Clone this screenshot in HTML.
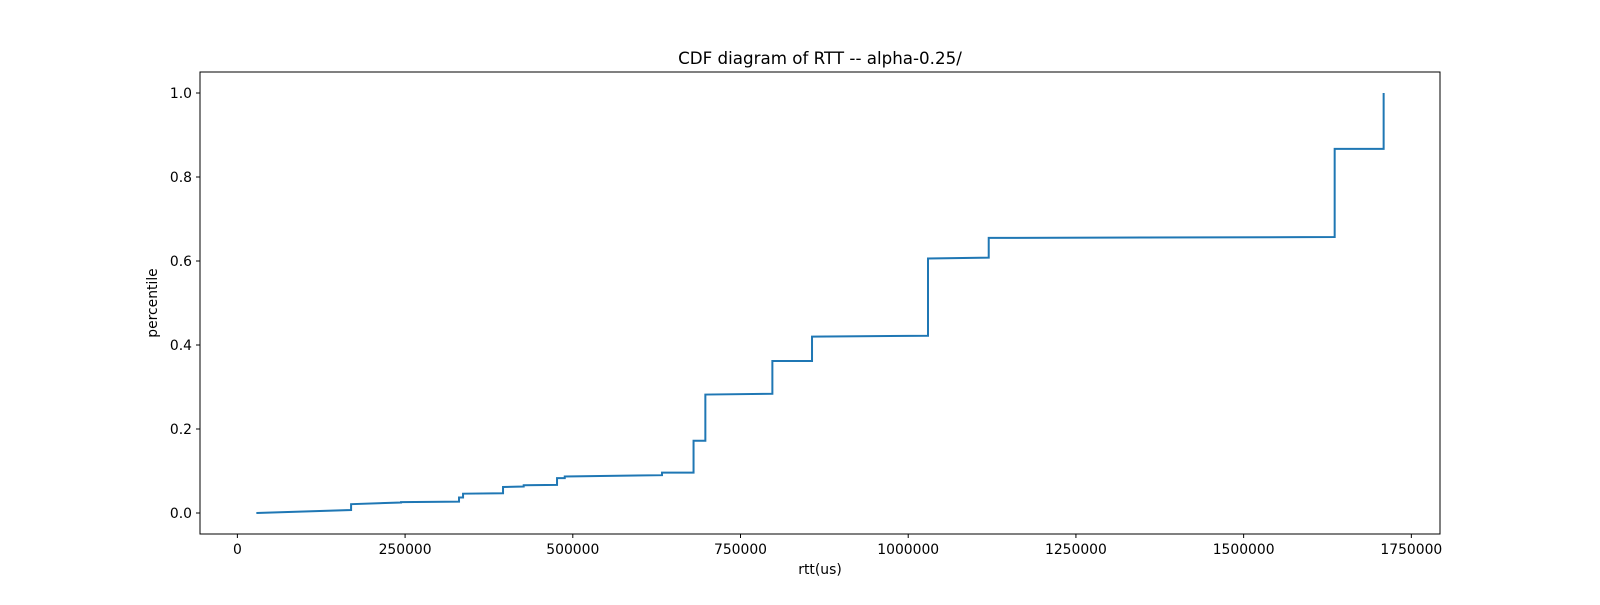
<!DOCTYPE html>
<html><head><meta charset="utf-8"><style>
body{margin:0;background:#fff}
svg text{font-family:"DejaVu Sans","Liberation Sans",sans-serif;fill:#000}
</style></head><body>
<svg id="chart" width="1600" height="600" xmlns="http://www.w3.org/2000/svg">
<rect x="0" y="0" width="1600" height="600" fill="#fff"/>
<text x="820" y="64" font-size="16.7" text-anchor="middle">CDF diagram of RTT -- alpha-0.25/</text>
<g id="xticks"></g><g id="yticks"></g>
<path id="series" fill="none" stroke="#1f77b4" stroke-width="2"/>
<rect x="200" y="72" width="1240" height="462" fill="none" stroke="#000" stroke-width="1"/>
<text x="820" y="574" font-size="13.9" text-anchor="middle">rtt(us)</text>
<text x="0" y="0" font-size="13.9" text-anchor="middle" transform="translate(157,303) rotate(-90)">percentile</text>
</svg>
<script>
const rttValues=[28300,169500,169500,244000,244000,330400,330400,336400,336400,396000,396000,426800,426800,476500,476500,488000,488000,633000,633000,680000,680000,697600,697600,797500,797500,856600,856600,1029500,1029500,1120000,1120000,1635700,1635700,1708700,1708700];
const percentileValues=[0,0.007,0.021,0.025,0.026,0.027,0.037,0.037,0.046,0.047,0.062,0.063,0.066,0.067,0.083,0.083,0.087,0.090,0.096,0.096,0.172,0.172,0.282,0.284,0.362,0.362,0.420,0.422,0.606,0.608,0.655,0.657,0.867,0.867,1.0];
const xTickValues=[0,250000,500000,750000,1000000,1250000,1500000,1750000];
const yTickValues=[0,0.2,0.4,0.6,0.8,1.0];
const yTickLabels=["0.0","0.2","0.4","0.6","0.8","1.0"];

const L=200,R=1440,T=72,B=534;
const xmin0=Math.min(...rttValues),xmax0=Math.max(...rttValues),xr=xmax0-xmin0;
const xmin=xmin0-0.05*xr,xmax=xmax0+0.05*xr;
const ymin=-0.05,ymax=1.05;
const xs=v=>L+(v-xmin)/(xmax-xmin)*(R-L);
const ys=v=>B-(v-ymin)/(ymax-ymin)*(B-T);
const NS="http://www.w3.org/2000/svg";
let d="";
rttValues.forEach((v,i)=>{d+=(i?"L":"M")+xs(v).toFixed(2)+","+ys(percentileValues[i]).toFixed(2);});
document.getElementById("series").setAttribute("d",d);
const xg=document.getElementById("xticks");
xTickValues.forEach(v=>{
  const x=xs(v);
  const ln=document.createElementNS(NS,"line");
  
  
  ln.setAttribute("x1",x);ln.setAttribute("x2",x);ln.setAttribute("y1",B);ln.setAttribute("y2",B+4);ln.setAttribute("stroke","#000");
  xg.appendChild(ln);
  const t=document.createElementNS(NS,"text");
  
  
  t.setAttribute("x",x);t.setAttribute("y",B+20);t.setAttribute("font-size","13.9");t.setAttribute("text-anchor","middle");
  t.textContent=String(v);xg.appendChild(t);
});
const yg=document.getElementById("yticks");
yTickValues.forEach((v,i)=>{
  const y=ys(v);
  const ln=document.createElementNS(NS,"line");
  
  
  ln.setAttribute("x1",L-4);ln.setAttribute("x2",L);ln.setAttribute("y1",y);ln.setAttribute("y2",y);ln.setAttribute("stroke","#000");
  yg.appendChild(ln);
  const t=document.createElementNS(NS,"text");
  
  
  t.setAttribute("x",L-8);t.setAttribute("y",y+5);t.setAttribute("font-size","13.9");t.setAttribute("text-anchor","end");
  t.textContent=yTickLabels[i];yg.appendChild(t);
});
</script>
</body></html>
